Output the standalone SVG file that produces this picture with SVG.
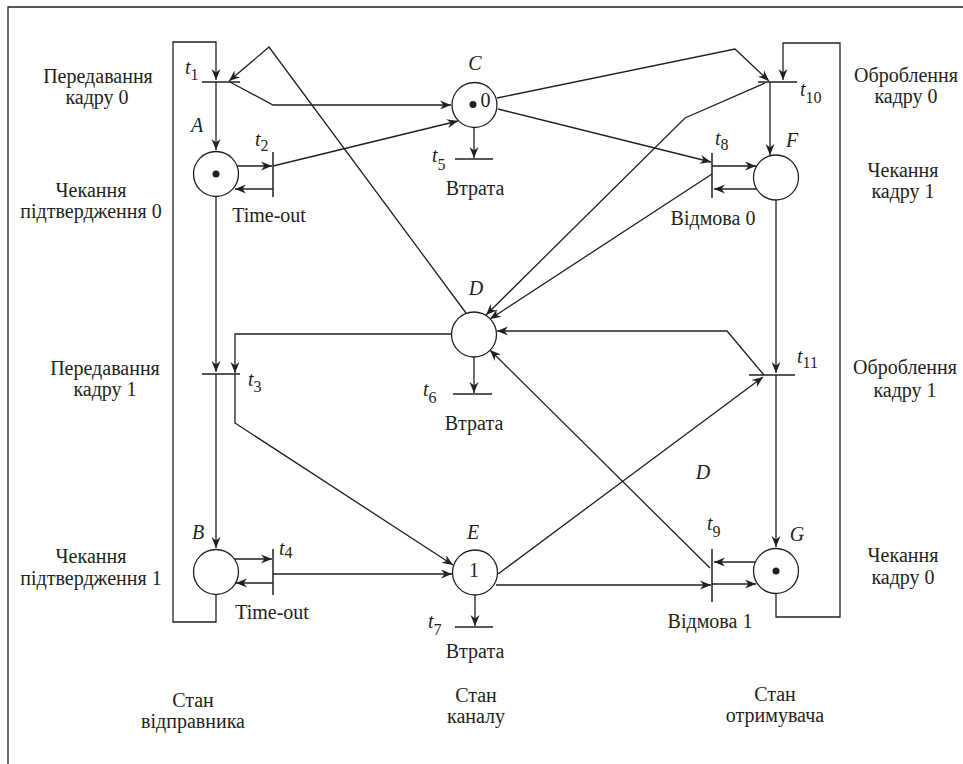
<svg xmlns="http://www.w3.org/2000/svg" width="963" height="764" viewBox="0 0 963 764">
<style>
.ln{fill:none;stroke:#231f20;stroke-width:1.3}
.ar{fill:none;stroke:#231f20;stroke-width:1.3;marker-end:url(#ah)}
.bar{fill:none;stroke:#231f20;stroke-width:1.5}
.pl{fill:#fff;stroke:#231f20;stroke-width:1.3}
.tk{fill:#231f20}
text{font-family:"Liberation Serif","Times New Roman",serif;font-size:20px;fill:#231f20}
.c{text-anchor:middle}
.it{font-style:italic}
.sub{font-style:normal;font-size:16px}
</style>
<defs>
<marker id="ah" viewBox="-12 -6 13 12" refX="0" refY="0" markerWidth="13" markerHeight="12" markerUnits="userSpaceOnUse" orient="auto">
<path d="M0,0 L-11,-4.5 L-7.5,0 L-11,4.5 Z" fill="#231f20"/>
</marker>
</defs>
<rect width="963" height="764" fill="#fff"/>
<path class="ln" d="M8,764 V7 H963"/>

<g id="connectors">
<path class="ar" d="M216,595 V622 H173 V42 H216 V80"/>
<path class="ar" d="M216,82 V150"/>
<path class="ar" d="M216,197 V372"/>
<path class="ar" d="M216,374 V548"/>
<path class="ar" d="M237,166 H272"/>
<path class="ar" d="M273,189 H235"/>
<path class="ar" d="M273,166 L458,121"/>
<path class="ar" d="M230,82 L273,105 H451"/>
<path class="ar" d="M466,313 L269,47 L229,81"/>
<path class="ar" d="M474,127 V158"/>
<path class="ar" d="M497,98 L735,49 L769,81"/>
<path class="ar" d="M498,109 L711,162"/>
<path class="ar" d="M776,594 V617 H840 V43 H783 V80"/>
<path class="ar" d="M770,82 V155"/>
<path class="ar" d="M765,83 L685,118 L486,315"/>
<path class="ar" d="M712,174 L490,319"/>
<path class="ar" d="M712,166 H756"/>
<path class="ar" d="M756,189 H714"/>
<path class="ar" d="M776,200 V373"/>
<path class="ar" d="M776,375 V547"/>
<path class="ar" d="M498,574 L763,377"/>
<path class="ar" d="M764,375 L727,331 H497"/>
<path class="ar" d="M474,357 V393"/>
<path class="ar" d="M451,334 H235 V373"/>
<path class="ar" d="M235,374 V423 L453,565"/>
<path class="ar" d="M234,559 H272"/>
<path class="ar" d="M273,583 H236"/>
<path class="ar" d="M273,574 H452"/>
<path class="ar" d="M475,595 V626"/>
<path class="ar" d="M496,585 H711"/>
<path class="ar" d="M710,568 L490,350"/>
<path class="ar" d="M755,562 H714"/>
<path class="ar" d="M712,584 H756"/>
</g>

<g id="place-A"><circle class="pl" cx="216" cy="174" r="22.5"/><circle class="tk" cx="216" cy="174" r="3.5"/><text class="it c" x="197" y="132">A</text></g>
<g id="place-B"><circle class="pl" cx="216" cy="572" r="22.5"/><text class="it c" x="198" y="539">B</text></g>
<g id="place-C"><circle class="pl" cx="474.5" cy="105" r="22.5"/><circle class="tk" cx="473" cy="104.5" r="3.5"/><text class="c" x="485.5" y="107">0</text><text class="it c" x="475" y="70">C</text></g>
<g id="place-D"><circle class="pl" cx="474" cy="334.5" r="22.5"/><text class="it c" x="476" y="295">D</text></g>
<g id="place-E"><circle class="pl" cx="475" cy="572.5" r="22.5"/><text class="c" x="474" y="577">1</text><text class="it c" x="473" y="539">E</text></g>
<g id="place-F"><circle class="pl" cx="776" cy="177.5" r="22.5"/><text class="it c" x="792" y="147">F</text></g>
<g id="place-G"><circle class="pl" cx="776" cy="571" r="22.5"/><circle class="tk" cx="776" cy="571" r="3.5"/><text class="it c" x="797" y="541">G</text></g>

<g id="t1"><path class="bar" d="M202,82 H240"/><text class="it" x="185" y="74">t<tspan class="sub" dy="6">1</tspan></text></g>
<g id="t2"><path class="bar" d="M273,152 V197"/><text class="it" x="255" y="146">t<tspan class="sub" dy="5">2</tspan></text></g>
<g id="t3"><path class="bar" d="M202,374 H240"/><text class="it" x="248" y="386">t<tspan class="sub" dy="6">3</tspan></text></g>
<g id="t4"><path class="bar" d="M273,549 V595"/><text class="it" x="279" y="555">t<tspan class="sub" dy="3">4</tspan></text></g>
<g id="t5"><path class="bar" d="M455,159 H493"/><text class="it" x="432" y="162">t<tspan class="sub" dy="8">5</tspan></text></g>
<g id="t6"><path class="bar" d="M453,394 H492"/><text class="it" x="423" y="396">t<tspan class="sub" dy="7">6</tspan></text></g>
<g id="t7"><path class="bar" d="M455,627 H493"/><text class="it" x="428" y="628">t<tspan class="sub" dy="7">7</tspan></text></g>
<g id="t8"><path class="bar" d="M712,153 V198"/><text class="it" x="715" y="145">t<tspan class="sub" dy="5">8</tspan></text></g>
<g id="t9"><path class="bar" d="M712,549 V602"/><text class="it" x="707" y="530">t<tspan class="sub" dy="7">9</tspan></text></g>
<g id="t10"><path class="bar" d="M758,82 H797"/><text class="it" x="800" y="96">t<tspan class="sub" dy="7">10</tspan></text></g>
<g id="t11"><path class="bar" d="M749,375 H795"/><text class="it" x="797" y="363">t<tspan class="sub" dy="5">11</tspan></text></g>

<g id="labels">
<text class="c" x="98" y="83">Передавання</text>
<text class="c" x="97" y="104">кадру 0</text>
<text class="c" x="91" y="197">Чекання</text>
<text class="c" x="91" y="218">підтвердження 0</text>
<text class="c" x="105" y="375">Передавання</text>
<text class="c" x="105" y="396">кадру 1</text>
<text class="c" x="91" y="563">Чекання</text>
<text class="c" x="91" y="585">підтвердження 1</text>
<text class="c" x="193" y="707">Стан</text>
<text class="c" x="193" y="728">відправника</text>
<text class="c" x="269" y="222">Time-out</text>
<text class="c" x="272" y="619">Time-out</text>
<text class="c" x="475" y="195">Втрата</text>
<text class="c" x="474" y="430">Втрата</text>
<text class="c" x="475" y="658">Втрата</text>
<text class="c" x="476" y="702">Стан</text>
<text class="c" x="476" y="723">каналу</text>
<text class="c" x="906" y="82">Оброблення</text>
<text class="c" x="906" y="103">кадру 0</text>
<text class="c" x="903" y="177">Чекання</text>
<text class="c" x="903" y="198">кадру 1</text>
<text class="c" x="905" y="374">Оброблення</text>
<text class="c" x="905" y="397">кадру 1</text>
<text class="c" x="903" y="562">Чекання</text>
<text class="c" x="903" y="584">кадру 0</text>
<text class="c" x="713" y="225">Відмова 0</text>
<text class="c" x="710" y="628">Відмова 1</text>
<text class="c" x="775" y="701">Стан</text>
<text class="c" x="775" y="722">отримувача</text>
<text class="it c" x="703" y="479">D</text>
</g>
</svg>
